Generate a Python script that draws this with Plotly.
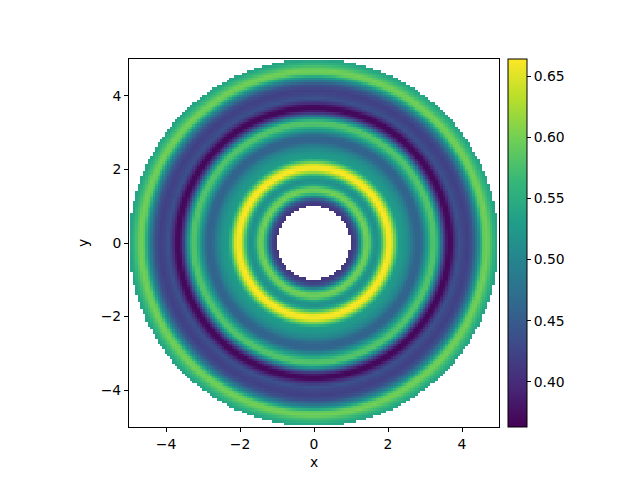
import numpy as np
import plotly.graph_objects as go

# Radial profile (radius -> value)
radius = [1.0, 1.1, 1.2, 1.3, 1.4, 1.5, 1.6, 1.7, 1.8, 1.9, 2.0, 2.1, 2.2, 2.3, 2.45,
          2.6, 2.75, 2.9, 3.05, 3.2, 3.3, 3.42, 3.52, 3.62, 3.72, 3.82, 3.92, 4.0, 4.15,
          4.3, 4.45, 4.6, 4.7, 4.82, 4.95, 5.0]
value = [0.41, 0.42, 0.46, 0.55, 0.60, 0.59, 0.53, 0.51, 0.54, 0.61, 0.665, 0.655, 0.59, 0.53, 0.52,
         0.50, 0.46, 0.46, 0.52, 0.58, 0.58, 0.50, 0.42, 0.37, 0.37, 0.41, 0.44, 0.43, 0.42,
         0.44, 0.50, 0.59, 0.60, 0.57, 0.54, 0.54]
r_inner = 1.0
r_outer = 5.0
zmin, zmax = 0.363, 0.664
tick_x = [-4, -2, 0, 2, 4]
tick_cb = [0.40, 0.45, 0.50, 0.55, 0.60, 0.65]

n = 150
xs = np.linspace(-5, 5, n)
ys = np.linspace(-5, 5, n)
X, Y = np.meshgrid(xs, ys)
R = np.sqrt(X**2 + Y**2)
Z = np.interp(R, radius, value)
Z[(R < r_inner) | (R > r_outer)] = np.nan

font = dict(family="DejaVu Sans", size=13.9, color="black")

fig = go.Figure(go.Heatmap(
    x=xs, y=ys, z=Z, colorscale="Viridis", zmin=zmin, zmax=zmax, zsmooth=False,
    hoverongaps=False,
    colorbar=dict(
        x=(508 - 129) / 370, xanchor="left", xref="paper", xpad=0, ypad=0,
        y=0, yanchor="bottom", len=1, lenmode="fraction",
        thickness=19, thicknessmode="pixels",
        outlinewidth=1, outlinecolor="black",
        tickvals=tick_cb, ticktext=[f"{v:.2f}" for v in tick_cb],
        ticks="outside", ticklen=4, tickwidth=1, tickcolor="black",
        tickfont=font,
    ),
))

axis_common = dict(
    showgrid=False, zeroline=False, showline=True, linecolor="black", linewidth=1,
    mirror=True, ticks="outside", ticklen=4, tickwidth=1, tickcolor="black",
    tickvals=tick_x, ticktext=["\u22124", "\u22122", "0", "2", "4"], tickfont=font,
    range=[-5, 5],
)

fig.update_layout(
    width=640, height=480,
    margin=dict(l=129, r=141, t=59, b=53),
    paper_bgcolor="white", plot_bgcolor="white",
    font=font,
    xaxis=dict(axis_common, title=dict(text="x", font=font, standoff=6)),
    yaxis=dict(axis_common, title=dict(text="y", font=font, standoff=8)),
)

fig.write_html("out.html")
